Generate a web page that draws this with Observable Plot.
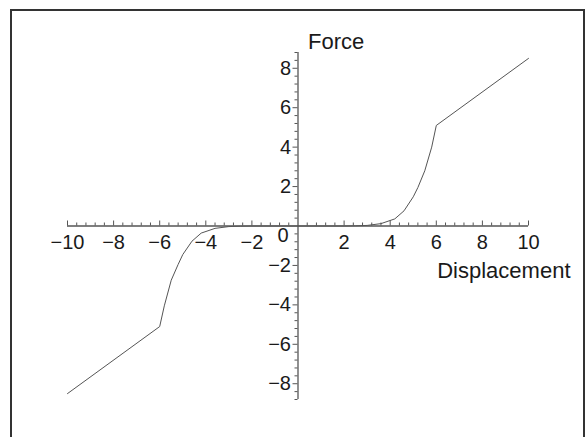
<!DOCTYPE html>
<html><head><meta charset="utf-8">
<script src="https://cdn.jsdelivr.net/npm/d3@7"></script>
<script src="https://cdn.jsdelivr.net/npm/@observablehq/plot@0.6"></script>
<style>
html,body{margin:0;padding:0;background:#fff;overflow:hidden}
#wrap{position:relative;width:586px;height:437px;overflow:hidden}
#frame{position:absolute;left:10px;top:9px;width:575px;height:445px;border:2px solid #333;box-sizing:border-box}
#chart{position:absolute;left:0;top:0}
</style></head><body>
<div id="wrap"><div id="frame"></div><div id="chart"></div></div>
<script>
// Curve
const displacement = [-10, -6, -5.8, -5.5, -5.2, -5, -4.6, -4.2, -3.6, -3, -2.5, -2, -1, 0, 1, 2, 2.5, 3, 3.6, 4.2, 4.6, 5, 5.2, 5.5, 5.8, 6, 10];
const force = [-8.5, -5.1, -4.05, -2.75, -1.95, -1.45, -0.77, -0.36, -0.12, -0.03, -0.01, 0, 0, 0, 0, 0, 0.01, 0.03, 0.12, 0.36, 0.77, 1.48, 1.95, 2.8, 4.0, 5.1, 8.5];
const xTickLabels = [-10, -8, -6, -4, -2, 2, 4, 6, 8, 10];
const yTickLabels = [-8, -6, -4, -2, 2, 4, 6, 8];
const zeroLabel = ["0"];
const xTitle = "Displacement";
const yTitle = "Force";

const xDomain = [-10, 10];
const yDomain = [-8.8, 8.8];
const xMinor = d3.range(0, 51).map(i => -10 + i * 0.4);
const yMinor = d3.range(0, 45).map(i => -8.8 + i * 0.4);
const isMajor = d => Math.abs(d - Math.round(d / 2) * 2) < 1e-6;
const fmt = d => d < 0 ? "\u2212" + (-d) : String(d);

const curve = displacement.map((x, i) => ({x, y: force[i]}));
const font = "'Liberation Sans', Arial, Helvetica, sans-serif";
const axisColor = "#555";
const textColor = "#1a1a1a";

const chart = Plot.plot({
  width: 586,
  height: 437,
  marginLeft: 67,
  marginRight: 58,
  marginTop: 52,
  marginBottom: 38,
  x: {domain: xDomain, axis: null},
  y: {domain: yDomain, axis: null},
  style: {fontFamily: font, background: "transparent", overflow: "visible"},
  marks: [
    Plot.ruleY([0], {x1: xDomain[0], x2: xDomain[1], stroke: axisColor, strokeWidth: 1.3}),
    Plot.ruleX([0], {y1: yDomain[0], y2: yDomain[1], stroke: axisColor, strokeWidth: 1.3}),
    Plot.ruleX(xMinor.filter(d => !isMajor(d)), {x: d => d, y1: 0, y2: 0, insetTop: -3, stroke: axisColor, strokeWidth: 1}),
    Plot.ruleX(xMinor.filter(d => isMajor(d) && Math.abs(d) > 1e-6), {x: d => d, y1: 0, y2: 0, insetTop: -5, stroke: axisColor, strokeWidth: 1}),
    Plot.ruleY(yMinor.filter(d => !isMajor(d)), {y: d => d, x1: 0, x2: 0, insetLeft: -3, stroke: axisColor, strokeWidth: 1}),
    Plot.ruleY(yMinor.filter(d => isMajor(d) && Math.abs(d) > 1e-6), {y: d => d, x1: 0, x2: 0, insetLeft: -5, stroke: axisColor, strokeWidth: 1}),
    Plot.text(xTickLabels, {x: d => d, y: 0, dy: 17, text: fmt, fontSize: 20, fill: textColor, textAnchor: "middle"}),
    Plot.text(yTickLabels, {x: 0, y: d => d, dx: -7, text: fmt, fontSize: 20, fill: textColor, textAnchor: "end"}),
    Plot.text(zeroLabel, {x: 0, y: 0, dx: -15, dy: 10, text: d => d, fontSize: 20, fill: textColor, textAnchor: "middle"}),
    Plot.text([yTitle], {x: 0, y: yDomain[1], dx: 10, dy: -11, text: d => d, fontSize: 22, fill: textColor, textAnchor: "start"}),
    Plot.text([xTitle], {x: xDomain[1], y: 0, dx: 42, dy: 45, text: d => d, fontSize: 22, fill: textColor, textAnchor: "end"}),
    Plot.line(curve, {x: "x", y: "y", stroke: "#555", strokeWidth: 1})
  ]
});
document.getElementById("chart").appendChild(chart);
</script>
</body></html>
